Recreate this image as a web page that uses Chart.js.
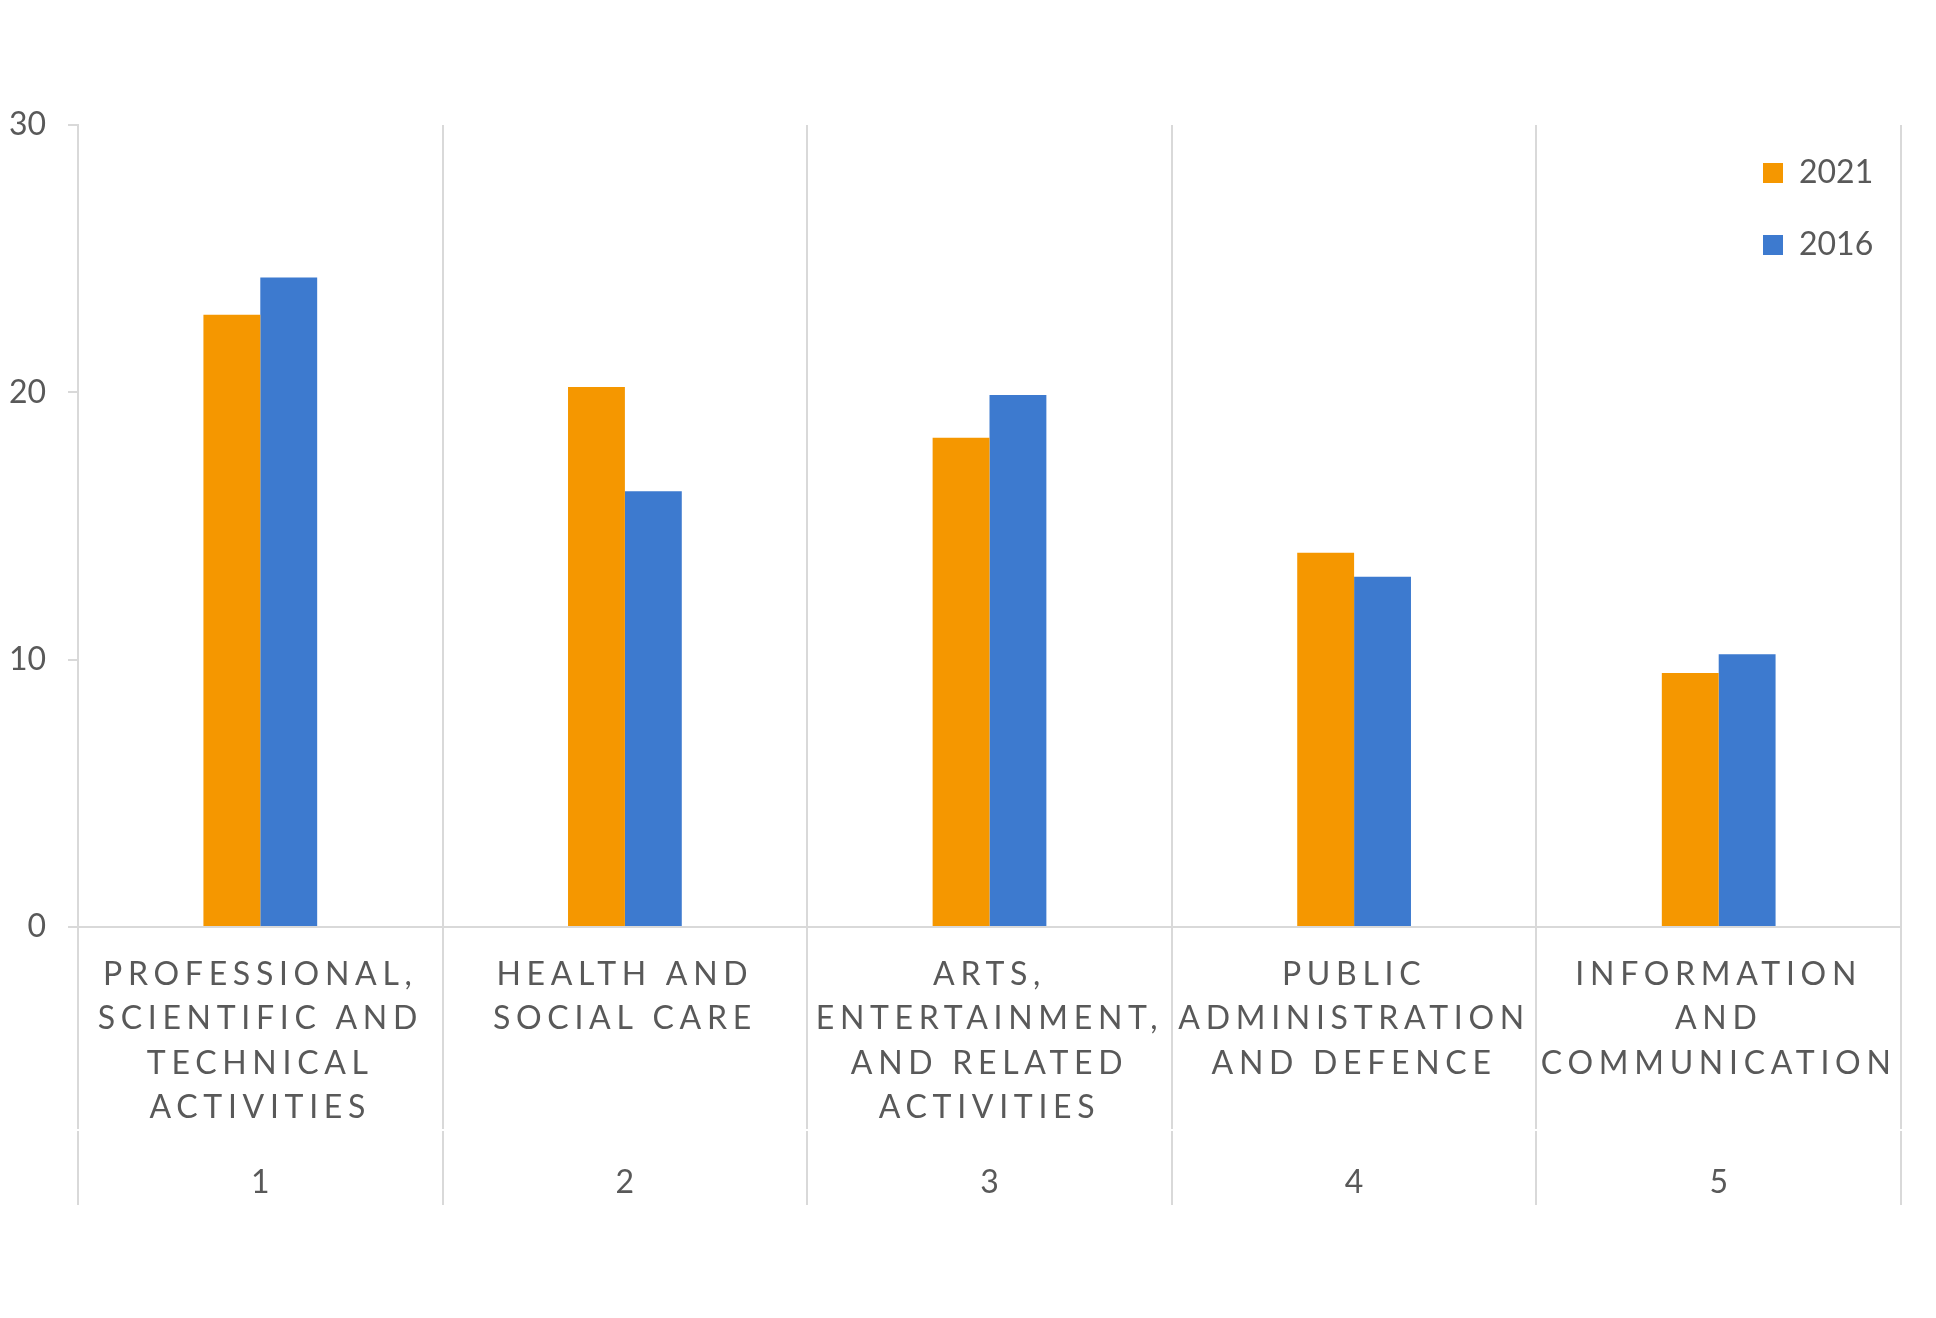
<!DOCTYPE html>
<html>
<head>
<meta charset="utf-8">
<script src="https://cdn.jsdelivr.net/npm/chart.js@4.4.0/dist/chart.umd.min.js"></script>
<style>
  html, body { margin: 0; padding: 0; background: #fff; }
  canvas { display: block; }
</style>
</head>
<body>
<canvas id="chart" width="1936" height="1318"></canvas>
<script>
/* global Chart */

// categories (one line per array entry) and the outer level numbers
const categories = [
  ['PROFESSIONAL,', 'SCIENTIFIC AND', 'TECHNICAL', 'ACTIVITIES'],
  ['HEALTH AND', 'SOCIAL CARE'],
  ['ARTS,', 'ENTERTAINMENT,', 'AND RELATED', 'ACTIVITIES'],
  ['PUBLIC', 'ADMINISTRATION', 'AND DEFENCE'],
  ['INFORMATION', 'AND', 'COMMUNICATION'],
];
const categoryNumbers = ['1', '2', '3', '4', '5'];

const seriesNames = ['2021', '2016'];
const values2021 = [22.9, 20.2, 18.3, 14.0, 9.5];
const values2016 = [24.3, 16.3, 19.9, 13.1, 10.2];

const yMin = 0;
const yMax = 30;
const yStep = 10;

const FONT = 'Lato, Calibri, sans-serif';
const TEXT = '#595959';
const LINE = '#d9d9d9';

// spaced-out capitals on the category row (that axis draws after the bars)
const letterSpacing = {
  id: 'letterSpacing',
  afterDatasetsDraw: function(chart) {
    chart.ctx.save();
    chart.ctx.letterSpacing = '5.7px';
  },
  afterDraw: function(chart) {
    chart.ctx.restore();
  },
};

// legend sits inside the plot, top right
const legendInside = {
  id: 'legendInside',
  afterLayout: function(chart) {
    const lg = chart.legend;
    const area = chart.chartArea;
    const w = lg.width;
    lg.left = area.right - 178;
    lg.right = lg.left + w;
    const h = lg.height;
    lg.top = area.top - 8;
    lg.bottom = lg.top + h;
  },
};

const ctx = document.getElementById('chart').getContext('2d');

new Chart(ctx, {
  type: 'bar',
  data: {
    labels: categories,
    datasets: [{
      label: seriesNames[0],
      data: values2021,
      backgroundColor: '#f59700',
      categoryPercentage: 0.312,
      barPercentage: 1,
    }, {
      label: seriesNames[1],
      data: values2016,
      backgroundColor: '#3d7acf',
      categoryPercentage: 0.312,
      barPercentage: 1,
    }],
  },
  plugins: [letterSpacing, legendInside],
  options: {
    responsive: false,
    devicePixelRatio: 1,
    animation: false,
    layout: {
      padding: { top: 125, left: 0, right: 35, bottom: 113 },
    },
    scales: {
      y: {
        min: yMin,
        max: yMax,
        ticks: {
          stepSize: yStep,
          color: TEXT,
          font: { family: FONT, size: 32 },
          padding: 22,
        },
        grid: {
          drawOnChartArea: false,
          tickLength: 10,
          color: LINE,
          lineWidth: 2,
        },
        border: { color: LINE, width: 2 },
        afterFit: function(scale) { scale.width = 78; },
      },
      x: {
        offset: true,
        weight: 0,
        grid: {
          offset: true,
          color: LINE,
          lineWidth: 2,
          tickLength: 202,
        },
        border: { color: LINE, width: 2 },
        ticks: {
          z: 1,
          color: TEXT,
          font: { family: FONT, size: 32, lineHeight: 1.39 },
          padding: -177,
          autoSkip: false,
          maxRotation: 0,
        },
        afterFit: function(scale) { scale.height = 204; },
      },
      x2: {
        type: 'category',
        position: 'bottom',
        labels: categoryNumbers,
        offset: true,
        weight: 1,
        grid: {
          offset: true,
          drawOnChartArea: false,
          color: LINE,
          lineWidth: 2,
          tickLength: 74,
        },
        border: { display: false },
        ticks: {
          color: TEXT,
          font: { family: FONT, size: 32 },
          padding: -42,
          autoSkip: false,
          maxRotation: 0,
        },
        afterFit: function(scale) { scale.height = 74; },
      },
    },
    plugins: {
      legend: {
        position: 'chartArea',
        align: 'start',
        labels: {
          boxWidth: 20,
          boxHeight: 20,
          padding: 40,
          color: TEXT,
          font: { family: FONT, size: 32 },
        },
      },
      tooltip: { enabled: false },
    },
  },
});
</script>
</body>
</html>
